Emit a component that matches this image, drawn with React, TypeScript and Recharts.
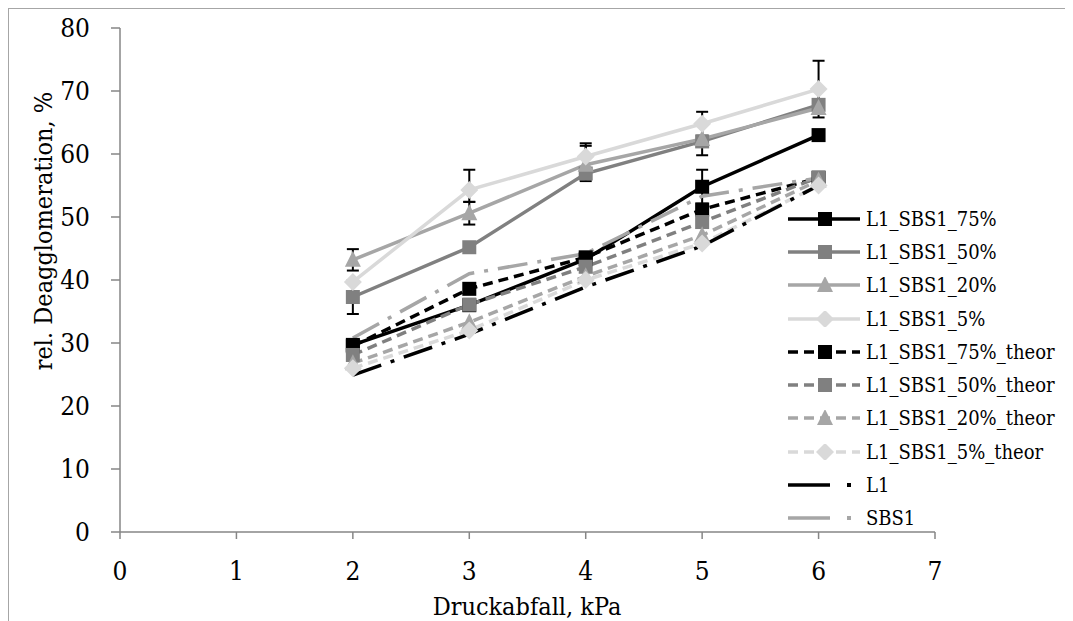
import * as React from 'react';
import { LineChart, Line, XAxis, YAxis, ErrorBar } from 'recharts';

// Druckabfall, kPa
const pressure = [2, 3, 4, 5, 6];

// measured rel. deagglomeration, %
const s75 = [29.7, 36.0, 43.3, 54.8, 63.0];
const s50 = [37.3, 45.2, 56.9, 62.0, 67.8];
const s20 = [43.2, 50.6, 58.3, 62.4, 67.3];
const s5 = [39.7, 54.3, 59.6, 64.8, 70.3];

// theoretical mixtures
const t75 = [29.5, 38.6, 43.6, 51.2, 56.2];
const t50 = [28.1, 36.1, 42.1, 49.2, 56.3];
const t20 = [26.8, 33.3, 40.6, 47.1, 55.8];
const t5 = [26.0, 32.0, 40.0, 45.8, 55.0];

// pure components
const l1 = [24.9, 31.4, 38.9, 45.4, 55.0];
const sbs1 = [30.8, 41.0, 44.2, 53.3, 56.2];

// error bars [down, up]
const err75 = [null, null, [1.0, 1.0], [2.7, 2.7], null];
const err50 = [[2.7, 2.7], null, null, null, null];
const err20 = [[1.7, 1.7], [1.8, 1.8], [2.6, 3.0], [2.6, 2.6], null];
const err5 = [null, [1.9, 3.2], [2.1, 2.1], [1.9, 1.9], [4.5, 4.5]];

const xTicks = [0, 1, 2, 3, 4, 5, 6, 7];
const yTicks = [0, 10, 20, 30, 40, 50, 60, 70, 80];

const FONT = "'DejaVu Serif Condensed', 'Liberation Serif', serif";
const AXIS = '#868686';

type Shape = 'square' | 'triangle' | 'diamond' | 'none';
interface SeriesDef { key: string; name: string; color: string; dash?: string; shape: Shape; err?: string; }

const series: SeriesDef[] = [
  { key: 's75', name: 'L1_SBS1_75%', color: '#000000', shape: 'square', err: 'e75' },
  { key: 's50', name: 'L1_SBS1_50%', color: '#808080', shape: 'square', err: 'e50' },
  { key: 's20', name: 'L1_SBS1_20%', color: '#a6a6a6', shape: 'triangle', err: 'e20' },
  { key: 's5', name: 'L1_SBS1_5%', color: '#d9d9d9', shape: 'diamond', err: 'e5' },
  { key: 't75', name: 'L1_SBS1_75%_theor', color: '#000000', dash: '10 6', shape: 'square' },
  { key: 't50', name: 'L1_SBS1_50%_theor', color: '#808080', dash: '10 6', shape: 'square' },
  { key: 't20', name: 'L1_SBS1_20%_theor', color: '#a6a6a6', dash: '10 6', shape: 'triangle' },
  { key: 't5', name: 'L1_SBS1_5%_theor', color: '#d9d9d9', dash: '10 6', shape: 'diamond' },
  { key: 'l1', name: 'L1', color: '#000000', dash: '30 10 4 10', shape: 'none' },
  { key: 'sbs1', name: 'SBS1', color: '#a6a6a6', dash: '30 10 4 10', shape: 'none' },
];

const data = pressure.map((p, i) => ({
  p,
  s75: s75[i], s50: s50[i], s20: s20[i], s5: s5[i],
  t75: t75[i], t50: t50[i], t20: t20[i], t5: t5[i],
  l1: l1[i], sbs1: sbs1[i],
  e75: err75[i], e50: err50[i], e20: err20[i], e5: err5[i],
}));

function Marker({ shape, cx, cy, fill }: { shape: Shape; cx: number; cy: number; fill: string }) {
  if (shape === 'square') return <rect x={cx - 7} y={cy - 7} width={14} height={14} fill={fill} />;
  if (shape === 'triangle') return <polygon points={`${cx},${cy - 9} ${cx + 8},${cy + 7} ${cx - 8},${cy + 7}`} fill={fill} />;
  if (shape === 'diamond') return <polygon points={`${cx},${cy - 9} ${cx + 9},${cy} ${cx},${cy + 9} ${cx - 9},${cy}`} fill={fill} />;
  return null;
}

function LegendIcon({ s }: { s: SeriesDef }) {
  if (s.shape === 'none') {
    return (
      <svg width={72} height={16} style={{ flex: 'none' }}>
        <line x1={0} y1={8} x2={42} y2={8} stroke={s.color} strokeWidth={3.5} />
        <rect x={59} y={6} width={4} height={4} fill={s.color} />
      </svg>
    );
  }
  return (
    <svg width={72} height={16} style={{ flex: 'none' }}>
      <line x1={0} y1={8} x2={72} y2={8} stroke={s.color} strokeWidth={3.5} strokeDasharray={s.dash ? '10 6' : undefined} />
      <Marker shape={s.shape} cx={37} cy={8} fill={s.color} />
    </svg>
  );
}

export default function App() {
  return (
    <div style={{ position: 'relative', width: 1065, height: 613, borderTop: '1px solid #a6a6a6', borderLeft: '1px solid #a6a6a6', boxSizing: 'border-box', overflow: 'hidden', background: '#fff' }}>
      <LineChart width={1064} height={612} data={data} margin={{ top: 19, right: 138, bottom: 29, left: 11 }}>
        <XAxis
          dataKey="p" type="number" domain={[0, 7]} ticks={xTicks} allowDataOverflow
          height={60} stroke={AXIS} strokeWidth={1.5} tickSize={7} tickMargin={23}
          tick={{ fill: '#000', fontSize: 26, fontFamily: FONT }}
          label={{ content: () => <text x={518} y={606} textAnchor="middle" fontSize={25} fontFamily={FONT} fill="#000">Druckabfall, kPa</text> }}
        />
        <YAxis
          type="number" domain={[0, 80]} ticks={yTicks} allowDataOverflow
          width={100} stroke={AXIS} strokeWidth={1.5} tickSize={9} tickMargin={21}
          tick={{ fill: '#000', fontSize: 26, fontFamily: FONT }}
          label={{ content: () => <text x={34} y={222} transform="rotate(-90 34 222)" textAnchor="middle" dominantBaseline="central" fontSize={25} fontFamily={FONT} fill="#000">rel. Deagglomeration, %</text> }}
        />
        {series.map((s) => (
          <Line
            key={s.key} dataKey={s.key} name={s.name} type="linear" stroke={s.color} strokeWidth={3.5}
            strokeDasharray={s.dash} isAnimationActive={false} activeDot={false}
            dot={(props: any) => <Marker key={`${s.key}-${props.index}`} shape={s.shape} cx={props.cx} cy={props.cy} fill={s.color} />}
          >
            {s.err ? <ErrorBar dataKey={s.err} width={6} stroke="#000" strokeWidth={2} direction="y" /> : null}
          </Line>
        ))}
      </LineChart>
      <div style={{ position: 'absolute', left: 779, top: 193, fontFamily: FONT, fontSize: 20 }}>
        {series.map((s) => (
          <div key={s.key} style={{ height: 33.3, display: 'flex', alignItems: 'center', whiteSpace: 'nowrap' }}>
            <LegendIcon s={s} />
            <span style={{ marginLeft: 6 }}>{s.name}</span>
          </div>
        ))}
      </div>
    </div>
  );
}
